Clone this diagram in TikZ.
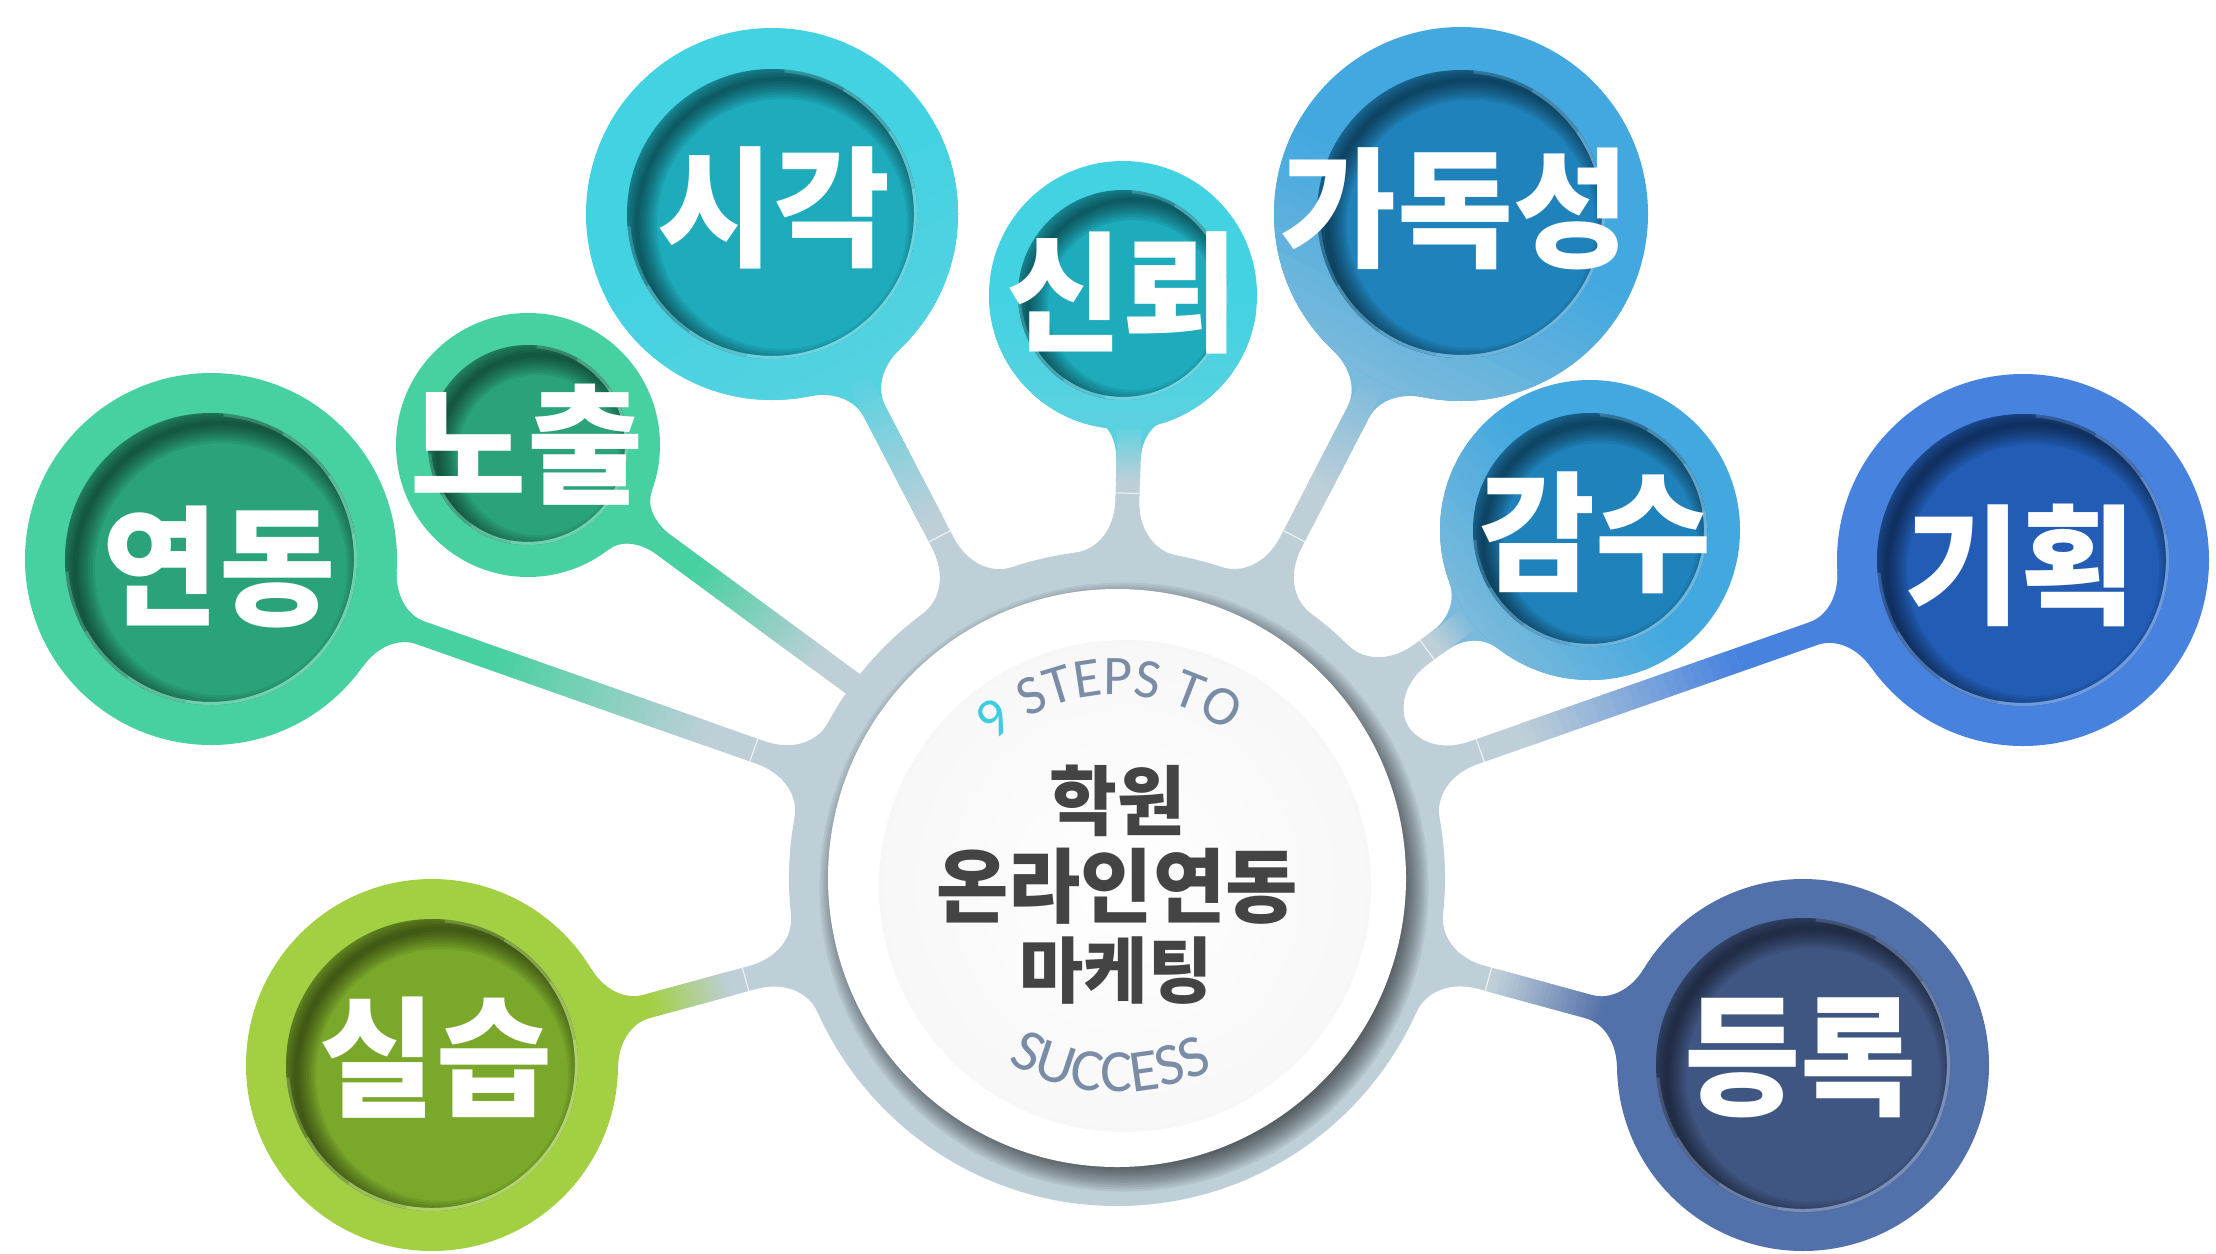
\documentclass[tikz,border=0pt]{standalone}
\usepackage{fontspec}
\newfontfamily\krfont{Noto Sans CJK KR}[FakeStretch=0.97]
\newfontfamily\carlfont{Carlito}
\usetikzlibrary{calc,decorations.text}
\definecolor{hubgrey}{HTML}{BECFD8}
\definecolor{grnring}{HTML}{47D0A0}
\definecolor{grnin}{HTML}{2BA37A}
\definecolor{cyring}{HTML}{42D2E2}
\definecolor{cyin}{HTML}{1EACBC}
\definecolor{blring}{HTML}{42A8DF}
\definecolor{blin}{HTML}{2082BA}
\definecolor{rbring}{HTML}{4682DE}
\definecolor{rbin}{HTML}{225CB4}
\definecolor{nvring}{HTML}{5270AA}
\definecolor{nvin}{HTML}{405682}
\definecolor{lmring}{HTML}{A2D042}
\definecolor{lmin}{HTML}{7AA82A}
\definecolor{ctext}{HTML}{444444}
\definecolor{tcyan}{HTML}{3ECDE0}
\definecolor{tslate}{HTML}{7A8CA6}

% stem: centre #1,#2, outer radius #3, colour #4, start mix #5,
% gradient start fraction #6, end fraction #7, hub fillet angle #8, hub fillet length #9
\newcommand{\mkstem}[9]{%
\begin{scope}
 \pgfmathsetmacro{\stA}{atan2(878-(#2),1117-(#1))}
 \pgfmathsetmacro{\stAp}{\stA+16}
 \pgfmathsetmacro{\stAm}{\stA-16}
 \pgfmathsetmacro{\stB}{\stA+180}
 \pgfmathsetmacro{\stBp}{\stB+#8}
 \pgfmathsetmacro{\stBm}{\stB-#8}
 \pgfmathsetmacro{\stP}{\stA+90}
 \pgfmathsetmacro{\stM}{\stA-90}
 \pgfmathsetmacro{\stD}{veclen(1117-(#1),878-(#2))}
 \pgfmathsetmacro{\stTC}{((#3)-12*sin(16))/cos(16)}
 \pgfmathsetmacro{\stQ}{(#3)+36}
 \pgfmathsetmacro{\stTH}{(328-12*sin(#8))/cos(#8)}
 \pgfmathsetmacro{\stQH}{328+#9}
 \pgfmathsetmacro{\stSH}{328+#9+7}
 \pgfmathsetmacro{\stS}{\stD-\stSH}
 \pgfmathsetmacro{\stGa}{(#3)+#6*(\stS-(#3))}
 \pgfmathsetmacro{\stGb}{\stS-#7*(\stS-(#3))}
 \pgfmathsetmacro{\stGe}{max(\stGa,\stQ)}
 \coordinate (sN) at (#1,#2);
 \coordinate (sH) at (1117,878);
 \coordinate (n1a) at ($(sN)+(\stAp:#3)$);
 \coordinate (n1c) at ($(sN)+(\stA:\stTC)+(\stP:12)$);
 \coordinate (n1q) at ($(sN)+(\stA:\stQ)+(\stP:12)$);
 \coordinate (n2a) at ($(sN)+(\stAm:#3)$);
 \coordinate (n2c) at ($(sN)+(\stA:\stTC)+(\stM:12)$);
 \coordinate (n2q) at ($(sN)+(\stA:\stQ)+(\stM:12)$);
 \coordinate (h1a) at ($(sH)+(\stBm:328)$);
 \coordinate (h1c) at ($(sH)+(\stB:\stTH)+(\stP:12)$);
 \coordinate (h1q) at ($(sH)+(\stB:\stQH)+(\stP:12)$);
 \coordinate (h2a) at ($(sH)+(\stBp:328)$);
 \coordinate (h2c) at ($(sH)+(\stB:\stTH)+(\stM:12)$);
 \coordinate (h2q) at ($(sH)+(\stB:\stQH)+(\stM:12)$);
 \fill[hubgrey] (n1a) .. controls ($(n1a)!0.6!(n1c)$) and ($(n1q)!0.6!(n1c)$) .. (n1q)
   -- (h1q) .. controls ($(h1q)!0.6!(h1c)$) and ($(h1a)!0.6!(h1c)$) .. (h1a)
   -- (h2a) .. controls ($(h2a)!0.6!(h2c)$) and ($(h2q)!0.6!(h2c)$) .. (h2q)
   -- (n2q) .. controls ($(n2q)!0.6!(n2c)$) and ($(n2a)!0.6!(n2c)$) .. (n2a) -- cycle;
 \fill[#4!#5!hubgrey] (n1a) .. controls ($(n1a)!0.6!(n1c)$) and ($(n1q)!0.6!(n1c)$) .. (n1q)
   -- ($(sN)+(\stA:\stGe)+(\stP:12)$) -- ($(sN)+(\stA:\stGe)+(\stM:12)$)
   -- (n2q) .. controls ($(n2q)!0.6!(n2c)$) and ($(n2a)!0.6!(n2c)$) .. (n2a) -- cycle;
 \foreach \i in {0,...,23}{%
   \pgfmathsetmacro{\stTa}{\stGa+(\stGb-\stGa)*\i/24}
   \pgfmathsetmacro{\stTb}{\stGa+(\stGb-\stGa)*(\i+1)/24+0.8}
   \pgfmathtruncatemacro{\stPc}{#5-#5*(\i+0.5)/24}
   \fill[#4!\stPc!hubgrey] ($(sN)+(\stA:\stTa)+(\stP:12)$) -- ($(sN)+(\stA:\stTb)+(\stP:12)$)
     -- ($(sN)+(\stA:\stTb)+(\stM:12)$) -- ($(sN)+(\stA:\stTa)+(\stM:12)$) -- cycle;
 }
 \ifdim #9pt>10pt
 \draw[white,opacity=0.7,line width=1.2] ($(sH)+(\stB:\stSH)+(\stP:12)$) -- ($(sH)+(\stB:\stSH)+(\stM:12)$);
 \fi
\end{scope}}

% bubble: centre #1,#2, outer radius #3, inner radius #4, ring colour #5, inner colour #6, edge mix #7
\newcommand{\mkbubble}[7]{%
 \fill[#5] (#1,#2) circle (#3);
 \ifnum#7<100\relax
 \begin{scope}
  \clip (#1,#2) circle (#3);
  \pgfmathsetmacro{\bbA}{atan2(878-(#2),1117-(#1))}
  \pgfmathsetmacro{\bbP}{\bbA+90}
  \pgfmathsetmacro{\bbM}{\bbA-90}
  \foreach \j in {0,...,15}{%
    \pgfmathsetmacro{\bbDa}{(#3)*\j/16}
    \pgfmathsetmacro{\bbDb}{(#3)*(\j+1)/16+1}
    \pgfmathtruncatemacro{\bbPc}{100-(100-#7)*(\j+0.5)/16}
    \fill[#5!\bbPc!hubgrey] ($(#1,#2)+(\bbA:\bbDa)+(\bbP:#3)$) -- ($(#1,#2)+(\bbA:\bbDb)+(\bbP:#3)$)
      -- ($(#1,#2)+(\bbA:\bbDb)+(\bbM:#3)$) -- ($(#1,#2)+(\bbA:\bbDa)+(\bbM:#3)$) -- cycle;
  }
 \end{scope}
 \fi
 \fill[#6] (#1,#2) circle (#4);
 \begin{scope}
  \clip (#1,#2) circle (#4);
  \foreach \k in {1,...,8}{\draw[black,opacity=0.07,line width=5*\k] (#1+10,#2+10) circle (#4);}
 \end{scope}
 \foreach \sa/\ea/\op in {-85/175/0.3,-60/150/0.35,-35/125/0.4,-10/100/0.5}{%
   \draw[#5!70!white, line width=3, opacity=\op] (#1,#2) ++(\sa:#4-1.5) arc[start angle=\sa, end angle=\ea, radius=#4-1.5];
 }
}

\tikzset{
  lbl/.style={text=white, font=\krfont\bfseries\fontsize{130}{130}\selectfont, inner sep=0pt},
  ctr/.style={text=ctext, inner sep=0pt}
}

\begin{document}
\begin{tikzpicture}[x=1pt,y=-1pt]
\useasboundingbox (0,0) rectangle (2216,1253);
\fill[white] (0,0) rectangle (2216,1253);

% named centres
\coordinate (hub) at (1117,878);
\coordinate (c-yeondong) at (211,559);
\coordinate (c-nochul) at (528,445);
\coordinate (c-sigak) at (772,214);
\coordinate (c-sinroe) at (1123,295);
\coordinate (c-gadok) at (1461,214);
\coordinate (c-gamsu) at (1590,530);
\coordinate (c-gihoek) at (2023,560);
\coordinate (c-deungrok) at (1803,1065);
\coordinate (c-silseup) at (432,1065);

% stems
\mkstem{211}{559}{186}{grnring}{100}{0.3}{0.12}{9}{50}
\mkstem{528}{445}{132}{grnring}{100}{0.3}{0.12}{2.1}{1}
\mkstem{772}{214}{186}{cyring}{85}{0}{0.1}{9}{50}
\mkstem{1133}{295}{130}{cyring}{80}{0}{0.15}{9}{50}
\mkstem{1461}{214}{187}{blring}{55}{0}{0.3}{9}{50}
\mkstem{1590}{530}{150}{blring}{55}{0}{0.2}{9}{50}
\mkstem{2023}{560}{186}{rbring}{100}{0.3}{0.12}{9}{50}
\mkstem{1803}{1065}{186}{nvring}{100}{0.15}{0.05}{9}{50}
\mkstem{432}{1065}{186}{lmring}{100}{0.3}{0.12}{9}{50}

% hub
\fill[hubgrey] (hub) circle (328);
\begin{scope}
  \clip (hub) circle (328);
  \foreach \k in {0,...,13}{\fill[black,opacity=0.06] (1124,887) circle (276+2.2*\k);}
\end{scope}
\fill[white] (hub) circle (289);
\shade[inner color=white, outer color=black!3] (1125,886) circle (246);

% centre texts
\node[ctr, font=\krfont\bfseries\fontsize{76}{76}\selectfont] (t-hagwon) at (1117,801) {학원};
\node[ctr, font=\krfont\bfseries\fontsize{81}{81}\selectfont] (t-online) at (1117,886) {온라인연동};
\node[ctr, font=\krfont\bfseries\fontsize{72}{72}\selectfont] (t-marketing) at (1116,971) {마케팅};

\path[decorate, decoration={text along path, text align=center,
  text={|\carlfont\fontsize{56}{56}\selectfont\color{tcyan}|9 |\carlfont\fontsize{56}{56}\selectfont\color{tslate}|STEPS TO}}]
  (hub) ++(197:183) arc[start angle=197, end angle=338, radius=183];
\path[decorate, decoration={text along path, text align=center,
  text={|\carlfont\fontsize{60}{60}\selectfont\color{tslate}|SUCCESS}}]
  (hub) ++(152:214) arc[start angle=152, end angle=32, radius=214];

% bubbles
\mkbubble{211}{559}{186}{146}{grnring}{grnin}{100}
\mkbubble{528}{445}{132}{100}{grnring}{grnin}{100}
\mkbubble{772}{214}{186}{145}{cyring}{cyin}{85}
\mkbubble{1123}{295}{134}{105}{cyring}{cyin}{80}
\mkbubble{1461}{214}{187}{144}{blring}{blin}{55}
\mkbubble{1590}{530}{150}{117}{blring}{blin}{55}
\mkbubble{2023}{560}{186}{146}{rbring}{rbin}{100}
\mkbubble{1803}{1065}{186}{147}{nvring}{nvin}{100}
\mkbubble{432}{1065}{186}{146}{lmring}{lmin}{100}

% labels
\node[lbl] (t-yeondong) at (219,567) {연동};
\node[lbl] (t-nochul) at (527,445) {노출};
\node[lbl] (t-sigak) at (774,208) {시각};
\node[lbl] (t-sinroe) at (1122,293) {신뢰};
\node[lbl] (t-gadok) at (1455,209) {가독성};
\node[lbl] (t-gamsu) at (1595,533) {감수};
\node[lbl] (t-gihoek) at (2020,565) {기획};
\node[lbl] (t-deungrok) at (1800,1058) {등록};
\node[lbl] (t-silseup) at (436,1058) {실습};
\end{tikzpicture}
\end{document}
